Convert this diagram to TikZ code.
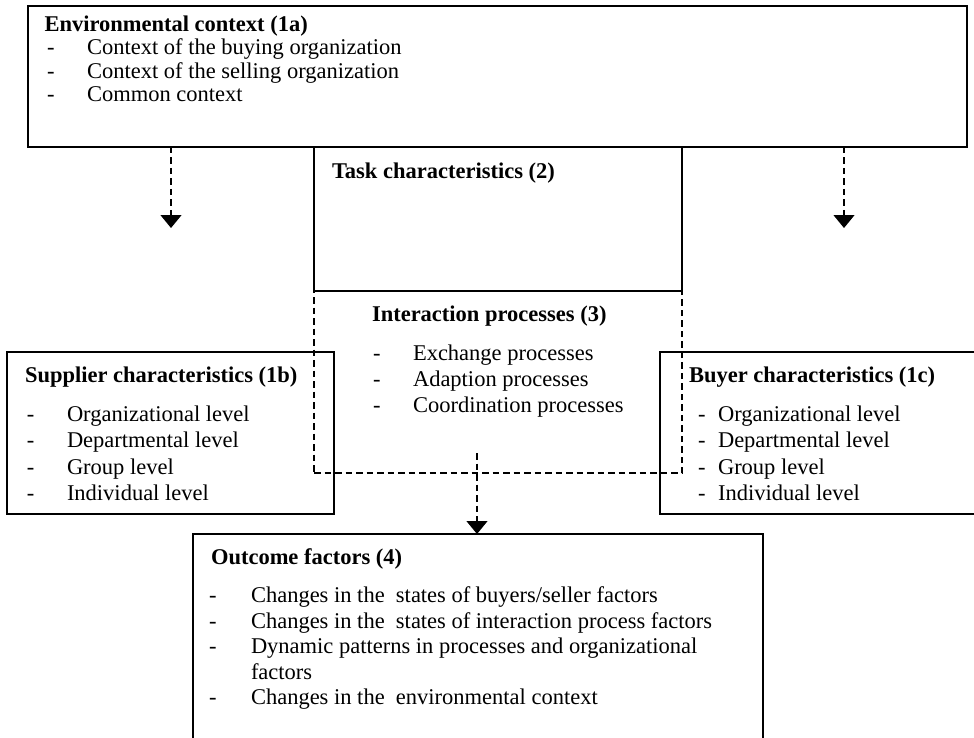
\documentclass[tikz,border=0pt]{standalone}
\usepackage{fontspec}
\setmainfont{Liberation Serif}
\usetikzlibrary{arrows.meta}
\begin{document}
\begin{tikzpicture}[x=1pt,y=-1pt,
  frame/.style={draw,line width=1.3pt,inner sep=0pt,outer sep=0pt,anchor=north west},
  dframe/.style={frame,line width=1.1pt,dash pattern=on 6.5pt off 4pt},
  lbl/.style={anchor=base west,inner sep=0pt,outer sep=0pt,font=\fontsize{22.5}{27}\selectfont},
  ttl/.style={lbl,font=\fontsize{22.5}{27}\selectfont\bfseries},
  flow/.style={line width=1.1pt,dash pattern=on 6.5pt off 4pt,-{Triangle[width=21pt,length=13pt]}}]
\clip (0,0) rectangle (974,738);
\fill[white] (0,0) rectangle (974,738);

% frames
\node[dframe,minimum width=368pt,minimum height=182pt] (inter) at (314,291) {};
\node[frame,minimum width=939pt,minimum height=141pt] (env) at (28,6) {};
\node[frame,minimum width=368pt,minimum height=144pt] (task) at (314,147) {};
\node[frame,minimum width=327pt,minimum height=162pt] (supp) at (7,352) {};
\node[frame,minimum width=330pt,minimum height=162pt] (buyer) at (660,352) {};
\node[frame,minimum width=570pt,minimum height=220pt] (out) at (193,534) {};

% environmental context
\node[ttl] (envT) at (44.5,32) {Environmental context (1a)};
\foreach \t [count=\i] in {Context of the buying organization,Context of the selling organization,Common context}{
  \node[lbl] (envD\i) at (47,{54.5+23.7*(\i-1)}) {-};
  \node[lbl] (envI\i) at (87,{54.5+23.7*(\i-1)}) {\t};
}

% task characteristics
\node[ttl] (taskT) at (332,179) {Task characteristics (2)};

% interaction processes
\node[ttl] (interT) at (372,321) {Interaction processes (3)};
\foreach \t [count=\i] in {Exchange processes,Adaption processes,Coordination processes}{
  \node[lbl] (interD\i) at (373,{360+26*(\i-1)}) {-};
  \node[lbl] (interI\i) at (413,{360+26*(\i-1)}) {\t};
}

% supplier characteristics
\node[ttl] (suppT) at (25,382) {Supplier characteristics (1b)};
\foreach \t [count=\i] in {Organizational level,Departmental level,Group level,Individual level}{
  \node[lbl] (suppD\i) at (27,{421.5+26.3*(\i-1)}) {-};
  \node[lbl] (suppI\i) at (67,{421.5+26.3*(\i-1)}) {\t};
}

% buyer characteristics
\node[ttl] (buyerT) at (689,382) {Buyer characteristics (1c)};
\foreach \t [count=\i] in {Organizational level,Departmental level,Group level,Individual level}{
  \node[lbl] (buyerD\i) at (698,{421.5+26.3*(\i-1)}) {-};
  \node[lbl] (buyerI\i) at (718,{421.5+26.3*(\i-1)}) {\t};
}

% outcome factors
\node[ttl] (outT) at (211,564) {Outcome factors (4)};
\node[lbl] (outD1) at (209,602.5) {-};
\node[lbl] (outI1) at (251,602.5) {Changes in the\ \ states of buyers/seller factors};
\node[lbl] (outD2) at (209,628) {-};
\node[lbl] (outI2) at (251,628) {Changes in the\ \ states of interaction process factors};
\node[lbl] (outD3) at (209,653.5) {-};
\node[lbl] (outI3) at (251,653.5) {Dynamic patterns in processes and organizational};
\node[lbl] (outI3b) at (251,679) {factors};
\node[lbl] (outD4) at (209,704.5) {-};
\node[lbl] (outI4) at (251,704.5) {Changes in the\ \ environmental context};

% influence arrows
\coordinate (tipL) at (171,228);
\coordinate (tipR) at (844,228);
\coordinate (startC) at (477,453);
\draw[flow] (env.south -| tipL) -- (tipL);
\draw[flow] (env.south -| tipR) -- (tipR);
\draw[flow] (startC) -- (startC |- out.north);
\end{tikzpicture}
\end{document}
